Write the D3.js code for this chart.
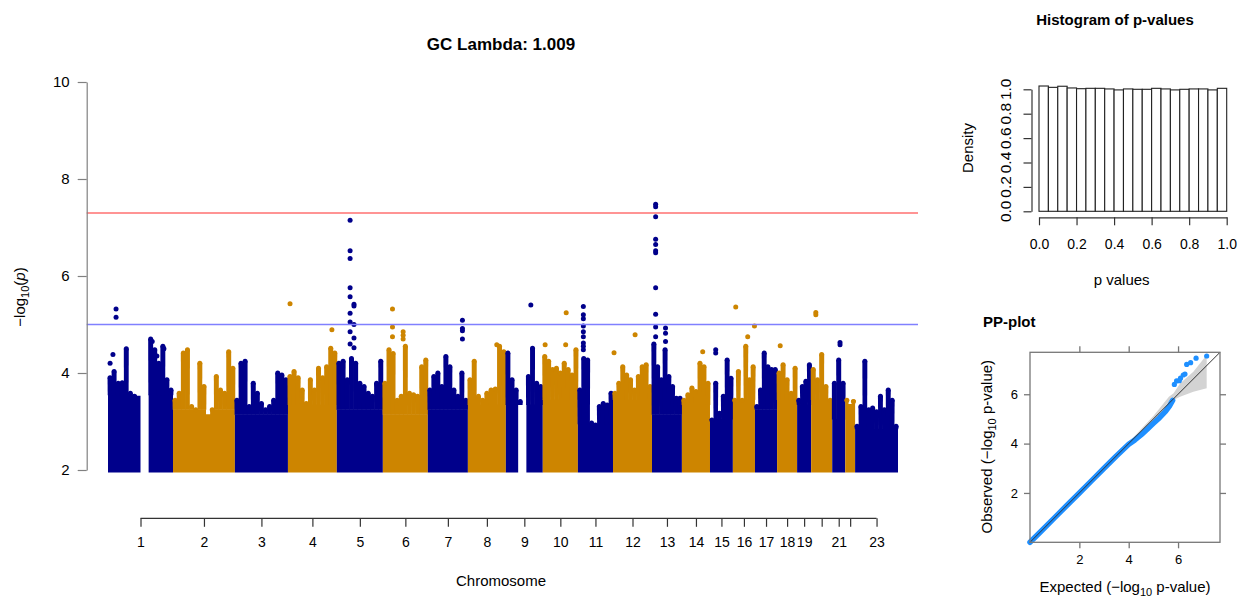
<!DOCTYPE html>
<html>
<head>
<meta charset="utf-8">
<script src="https://cdn.jsdelivr.net/npm/d3@7"></script>
<style>
  body { margin: 0; background: #fff; }
  svg { display: block; }
  text { font-family: "Liberation Sans", Arial, Helvetica, sans-serif; fill: #000; }
</style>
</head>
<body>
<svg id="chart" width="1249" height="598"></svg>
<script>
// ---------- Manhattan plot data ----------
const chromosomes = ["1","2","3","4","5","6","7","8","9","10","11","12","13","14","15","16","17","18","19","20","21","22","23"];
// span of genotyped positions on each chromosome (Mb)
const chrSpanMb = [250,238,204,188,177,173,154,146,142,135,135,150,115,108,88,85,85,77,54,81,50,38,165];
// axis labels actually printed (20 and 22 are crowded out)
const chrTickLabels = ["1","2","3","4","5","6","7","8","9","10","11","12","13","14","15","16","17","18","19","","21","","23"];
// -log10(p) below which markers form a continuous band on each chromosome
const denseLevel = [3.5,3.2,3.1,3.3,3.2,3.1,3.2,3.3,3.3,3.4,2.9,3.4,3.1,3.3,3.0,3.4,3.2,3.4,3.3,3.4,3.0,3.4,2.8];
// upper envelope of -log10(p) in equal-width windows along each chromosome (null = no markers)
const envelope = [
  [3.9,4.03,3.79,3.8,4.5,3.58,3.52,3.48,3.44,null,4.7,4.48,4.2,4.55,3.86,3.65],
  [3.44,3.58,4.41,4.48,3.31,3.24,4.2,3.72,3.1,3.24,3.93,3.65,3.58,4.44,4.1],
  [3.44,4.2,4.24,3.31,3.79,3.58,3.37,3.24,3.31,3.44,4.0,3.96,3.86],
  [3.93,4.03,3.9,3.65,3.37,3.86,3.65,4.1,3.9,4.13,4.51,4.41],
  [4.2,4.24,3.86,4.3,4.2,3.79,3.72,3.58,3.52,3.79,4.24],
  [3.79,4.48,4.4,3.44,3.52,4.55,3.58,3.55,3.52,4.13,4.27],
  [3.65,3.93,4.0,3.72,4.34,4.13,3.65,3.52,4.0,3.44],
  [3.86,4.24,3.52,3.44,3.58,3.65,3.67,4.55,4.44],
  [4.41,3.86,3.65,3.41,null,3.93,4.51,3.79,3.72],
  [4.34,4.24,4.07,4.1,4.0,4.2,4.07,3.96,4.48],
  [3.65,4.3,4.27,2.97,2.93,3.31,3.37,3.34,3.58],
  [3.58,3.79,4.13,3.96,3.86,3.65,3.93,4.13,4.17,3.72],
  [4.6,4.13,3.86,4.48,3.93,3.72,3.48,3.48],
  [3.44,3.55,3.69,3.62,4.2,4.13,3.79],
  [3.03,3.79,3.17,3.52,4.27,3.89],
  [3.44,4.03,3.44,4.55,3.86,4.13],
  [3.31,3.65,4.41,4.13,4.07,4.07],
  [4.0,4.17,3.86,3.58,4.1],
  [3.44,3.72,3.83,4.17],
  [4.07,3.86,4.38,3.72,3.44],
  [3.79,4.27,3.79],
  [3.44,3.31,3.41],
  [2.9,3.31,4.24,3.24,3.28,3.2,3.52,3.24,3.65,3.44,2.9]
];
// individual markers standing above the envelope: [chromosome, position (Mb), -log10(p)]
const hits = [
  [1,31,5.32],[1,31,5.15],[1,8,4.2],[1,19,4.38],[1,170,4.65],[1,215,4.5],[1,188,4.35],
  [4,8,5.43],[4,169,4.89],
  [5,51,7.15],[5,51,6.52],[5,51,6.36],[5,51,5.76],[5,51,5.57],[5,51,5.23],[5,51,5.05],[5,51,4.85],[5,51,4.6],
  [5,66,5.42],[5,66,5.38],[5,66,5.0],[5,66,4.72],[5,66,4.52],
  [6,37,5.32],[6,37,4.95],[6,37,4.75],[6,78,4.85],[6,78,4.78],[6,78,4.7],
  [7,133,5.09],[7,133,4.92],[7,133,4.87],[7,133,4.7],
  [8,111,4.58],
  [9,96,5.4],
  [10,90,5.24],[10,9,4.58],[10,88,4.58],
  [11,21,5.37],[11,21,5.2],[11,21,5.12],[11,21,4.97],[11,21,4.85],[11,21,4.75],[11,21,4.62],[11,21,4.55],[11,21,4.48],
  [12,85,4.79],[12,4,4.42],
  [13,14,7.48],[13,14,7.43],[13,14,7.22],[13,14,6.76],[13,14,6.65],[13,14,6.52],[13,14,6.48],[13,14,5.76],[13,14,5.21],[13,14,4.95],[13,14,4.75],
  [13,52,4.93],[13,52,4.82],[13,52,4.65],
  [14,80,4.44],
  [15,22,4.48],[15,22,4.41],
  [16,11,5.36],[16,57,4.75],[16,83,4.97],
  [18,12,4.56],
  [20,18,5.25],[20,18,5.2],
  [21,30,4.63],[21,30,4.58]
];
const yTicks = [2,4,6,8,10];
const genomeWideLine = 7.3;   // -log10(5e-8)
const suggestiveLine = 5;
const gcLambda = "1.009";

// ---------- p-value histogram data ----------
const histBreaks = [0,0.05,0.1,0.15,0.2,0.25,0.3,0.35,0.4,0.45,0.5,0.55,0.6,0.65,0.7,0.75,0.8,0.85,0.9,0.95,1.0];
const histDensity = [1.027,1.016,1.025,1.011,1.005,1.008,1.008,1.003,0.995,1.003,1.0,1.0,1.008,1.003,0.995,1.0,1.003,1.003,0.995,1.008];
const histXTicks = [0,0.2,0.4,0.6,0.8,1.0];
const histYTicks = [0,0.2,0.4,0.6,0.8,1.0];

// ---------- PP-plot data ----------
const ppBulkExpected = [0,0.5,1,1.5,2,2.5,3,3.5,4.0,4.25,4.5,4.75,5.0,5.25,5.5,5.65,5.78];
const ppBulkObserved = [0,0.5,1,1.5,2,2.5,3,3.5,3.97,4.15,4.35,4.58,4.82,5.05,5.32,5.52,5.75];
const ppTopExpected = [5.85,5.94,6.05,6.1,6.21,6.28,6.35,6.51,6.73,7.16];
const ppTopObserved = [6.4,6.54,6.55,6.65,6.78,6.82,7.21,7.28,7.46,7.55];
const ppBandExpected = [4.0,5.0,5.63,5.82,6.08,6.62,7.16];
const ppBandLower = [3.95,4.9,5.7,5.77,5.9,6.1,6.24];
const ppBandUpper = [4.05,5.12,5.9,6.04,6.44,6.91,7.59];
const ppTicks = [2,4,6];

const svg = d3.select("#chart");
const blue = "#00008b", orange = "#cd8500";

// ================= Manhattan plot =================
const cumStart = [];
chrSpanMb.reduce((acc, s, i) => { cumStart[i] = acc; return acc + s; }, 0);
const totalMb = d3.sum(chrSpanMb);
const x = d3.scaleLinear().domain([0, totalMb]).range([108, 898]);
const y = d3.scaleLinear().domain([2, 10]).range([470, 82]);
const plotLeft = 86.7, plotRight = 918;
const R = 2.5;

const body = svg.append("g");
envelope.forEach((env, ci) => {
  const binW = chrSpanMb[ci] / env.length;
  const col = ci % 2 === 0 ? blue : orange;
  const dense = denseLevel[ci];
  // solid band: step area over window edges, broken where there are no markers
  const edges = env.map((v, j) => ({ pos: cumStart[ci] + j * binW, v }));
  edges.push({ pos: cumStart[ci] + chrSpanMb[ci], v: env[env.length - 1] });
  const solidArea = d3.area()
    .curve(d3.curveStepAfter)
    .defined(d => d.v !== null)
    .x(d => x(d.pos))
    .y0(y(2) + R)
    .y1(d => y(Math.min(d.v, dense)) - R);
  body.append("path").attr("d", solidArea(edges)).attr("fill", col);
  // tapered spike of markers from the band up to the window maximum
  const spike = d3.line();
  env.forEach((v, j) => {
    if (v === null || v <= dense) return;
    const x0 = x(cumStart[ci] + j * binW), x1 = x(cumStart[ci] + (j + 1) * binW);
    const cx = (x0 + x1) / 2;
    body.append("path")
      .attr("d", spike([[x0 - 0.3, y(dense) - R + 0.5], [cx - R, y(v)], [cx + R, y(v)], [x1 + 0.3, y(dense) - R + 0.5]]) + "Z")
      .attr("fill", col);
    body.append("circle").attr("cx", cx).attr("cy", y(v)).attr("r", R).attr("fill", col);
  });
});

svg.append("g").selectAll("circle").data(hits).join("circle")
  .attr("cx", d => x(cumStart[d[0] - 1] + d[1]))
  .attr("cy", d => y(d[2]))
  .attr("r", R)
  .attr("fill", d => (d[0] - 1) % 2 === 0 ? blue : orange);

// threshold lines
svg.append("line").attr("x1", plotLeft).attr("x2", plotRight)
  .attr("y1", y(genomeWideLine)).attr("y2", y(genomeWideLine))
  .attr("stroke", "#ff7070").attr("stroke-width", 1.5);
svg.append("line").attr("x1", plotLeft).attr("x2", plotRight)
  .attr("y1", y(suggestiveLine)).attr("y2", y(suggestiveLine))
  .attr("stroke", "#8080ff").attr("stroke-width", 1.5);

// y axis
const yAxis = svg.append("g").attr("transform", `translate(${plotLeft},0)`)
  .call(d3.axisLeft(y).tickValues(yTicks).tickSize(9).tickSizeOuter(0).tickPadding(8).tickFormat(d3.format("d")));
yAxis.select(".domain").attr("stroke", "#808080").attr("stroke-width", 1.2);
yAxis.selectAll(".tick line").attr("stroke", "#808080").attr("stroke-width", 1.2);
yAxis.selectAll(".tick text").attr("font-size", 15).attr("font-family", "Liberation Sans, Arial, sans-serif").attr("fill", "#000");

// x axis at chromosome midpoints
const mids = chrSpanMb.map((s, i) => cumStart[i] + s / 2);
const xAxisY = 518.3;
const xAxis = svg.append("g").attr("transform", `translate(0,${xAxisY})`)
  .call(d3.axisBottom(x).tickValues(mids).tickSize(8.5).tickPadding(10)
    .tickFormat((d, i) => chrTickLabels[i]));
xAxis.select(".domain").remove();
xAxis.append("line").attr("x1", x(mids[0])).attr("x2", x(mids[mids.length - 1]))
  .attr("y1", 0).attr("y2", 0).attr("stroke", "#333").attr("stroke-width", 1.2);
xAxis.selectAll(".tick line").attr("stroke", "#333").attr("stroke-width", 1.2);
xAxis.selectAll(".tick text").attr("font-size", 14).attr("font-family", "Liberation Sans, Arial, sans-serif").attr("fill", "#000");

svg.append("text").attr("x", 501).attr("y", 586).attr("text-anchor", "middle")
  .attr("font-size", 15).text("Chromosome");

const yLab = svg.append("text").attr("transform", "translate(25,297) rotate(-90)")
  .attr("text-anchor", "middle").attr("font-size", 15);
yLab.append("tspan").text("\u2212log");
yLab.append("tspan").attr("font-size", 11).attr("dy", 4).text("10");
yLab.append("tspan").attr("dy", -4).text("(");
yLab.append("tspan").attr("font-style", "italic").text("p");
yLab.append("tspan").text(")");

svg.append("text").attr("x", 501).attr("y", 49.5).attr("text-anchor", "middle")
  .attr("font-size", 17).attr("font-weight", "bold").text("GC Lambda: " + gcLambda);

// ================= Histogram of p-values =================
const hx = d3.scaleLinear().domain([0, 1]).range([1039, 1226.7]);
const hy = d3.scaleLinear().domain([0, 1]).range([211.3, 89.3]);
svg.append("g").selectAll("rect").data(histDensity).join("rect")
  .attr("x", (d, i) => hx(histBreaks[i]))
  .attr("width", (d, i) => hx(histBreaks[i + 1]) - hx(histBreaks[i]))
  .attr("y", d => hy(d))
  .attr("height", d => hy(0) - hy(d))
  .attr("fill", "#fff").attr("stroke", "#222").attr("stroke-width", 1.1);

const hxAxis = svg.append("g").attr("transform", "translate(0,217.3)")
  .call(d3.axisBottom(hx).tickValues(histXTicks).tickSize(8).tickSizeOuter(0).tickPadding(14).tickFormat(d3.format(".1f")));
hxAxis.select(".domain").attr("stroke", "#333").attr("stroke-width", 1.2);
hxAxis.selectAll(".tick line").attr("stroke", "#333").attr("stroke-width", 1.2);
hxAxis.selectAll(".tick text").attr("font-size", 14).attr("font-family", "Liberation Sans, Arial, sans-serif").attr("fill", "#000");

const hyAxis = svg.append("g").attr("transform", "translate(1031.5,0)")
  .call(d3.axisLeft(hy).tickValues(histYTicks).tickSize(8).tickSizeOuter(0));
hyAxis.select(".domain").attr("stroke", "#333").attr("stroke-width", 1.2);
hyAxis.selectAll(".tick line").attr("stroke", "#333").attr("stroke-width", 1.2);
hyAxis.selectAll(".tick text").remove();
svg.append("g").selectAll("text").data(histYTicks).join("text")
  .attr("transform", d => `translate(1010.5,${hy(d)}) rotate(-90)`)
  .attr("text-anchor", "middle").attr("font-size", 15.5)
  .text(d => d3.format(".1f")(d));

svg.append("text").attr("x", 1115).attr("y", 25).attr("text-anchor", "middle")
  .attr("font-size", 15).attr("font-weight", "bold").text("Histogram of p-values");
svg.append("text").attr("x", 1121.7).attr("y", 285).attr("text-anchor", "middle")
  .attr("font-size", 15).text("p values");
svg.append("text").attr("transform", "translate(973,148) rotate(-90)")
  .attr("text-anchor", "middle").attr("font-size", 15).text("Density");

// ================= PP-plot =================
const px = d3.scaleLinear().domain([0, 7.7]).range([1030, 1220]);
const py = d3.scaleLinear().domain([0, 7.7]).range([542.3, 352.3]);

const band = d3.area()
  .x((d, i) => px(ppBandExpected[i]))
  .y0((d, i) => py(ppBandLower[i]))
  .y1((d, i) => py(ppBandUpper[i]));
svg.append("path").attr("d", band(ppBandExpected)).attr("fill", "#d3d3d3");

const bulk = d3.line().x((d, i) => px(ppBulkExpected[i])).y((d, i) => py(ppBulkObserved[i]));
svg.append("path").attr("d", bulk(ppBulkExpected)).attr("fill", "none")
  .attr("stroke", "#1e8fff").attr("stroke-width", 5.5)
  .attr("stroke-linecap", "round").attr("stroke-linejoin", "round");
svg.append("g").selectAll("circle").data(ppTopExpected).join("circle")
  .attr("cx", d => px(d)).attr("cy", (d, i) => py(ppTopObserved[i]))
  .attr("r", 2.6).attr("fill", "#1e8fff");

svg.append("line").attr("x1", px(0)).attr("y1", py(0)).attr("x2", px(7.7)).attr("y2", py(7.7))
  .attr("stroke", "#333").attr("stroke-width", 1);

svg.append("rect").attr("x", px(0)).attr("y", py(7.7))
  .attr("width", px(7.7) - px(0)).attr("height", py(0) - py(7.7))
  .attr("fill", "none").attr("stroke", "#777").attr("stroke-width", 1.3);

const ppAxisStyle = g => {
  g.select(".domain").remove();
  g.selectAll(".tick line").attr("stroke", "#777").attr("stroke-width", 1.3);
  g.selectAll(".tick text").attr("font-size", 13).attr("font-family", "Liberation Sans, Arial, sans-serif").attr("fill", "#222");
};
svg.append("g").attr("transform", `translate(${px(0)},0)`)
  .call(d3.axisLeft(py).tickValues(ppTicks).tickSize(6).tickPadding(6)).call(ppAxisStyle);
svg.append("g").attr("transform", `translate(${px(7.7)},0)`)
  .call(d3.axisRight(py).tickValues(ppTicks).tickSize(6).tickFormat("")).call(ppAxisStyle);
svg.append("g").attr("transform", `translate(0,${py(0)})`)
  .call(d3.axisBottom(px).tickValues(ppTicks).tickSize(6).tickPadding(6)).call(ppAxisStyle);
svg.append("g").attr("transform", `translate(0,${py(7.7)})`)
  .call(d3.axisTop(px).tickValues(ppTicks).tickSize(6).tickFormat("")).call(ppAxisStyle);

svg.append("text").attr("x", 983).attr("y", 327).attr("font-size", 15)
  .attr("font-weight", "bold").text("PP-plot");

const obs = svg.append("text").attr("transform", "translate(992,446.7) rotate(-90)")
  .attr("text-anchor", "middle").attr("font-size", 15);
obs.append("tspan").text("Observed (\u2212log");
obs.append("tspan").attr("font-size", 11).attr("dy", 4).text("10");
obs.append("tspan").attr("dy", -4).text(" p-value)");

const exp = svg.append("text").attr("x", 1125).attr("y", 592)
  .attr("text-anchor", "middle").attr("font-size", 15);
exp.append("tspan").text("Expected (\u2212log");
exp.append("tspan").attr("font-size", 11).attr("dy", 4).text("10");
exp.append("tspan").attr("dy", -4).text(" p-value)");
</script>
</body>
</html>
